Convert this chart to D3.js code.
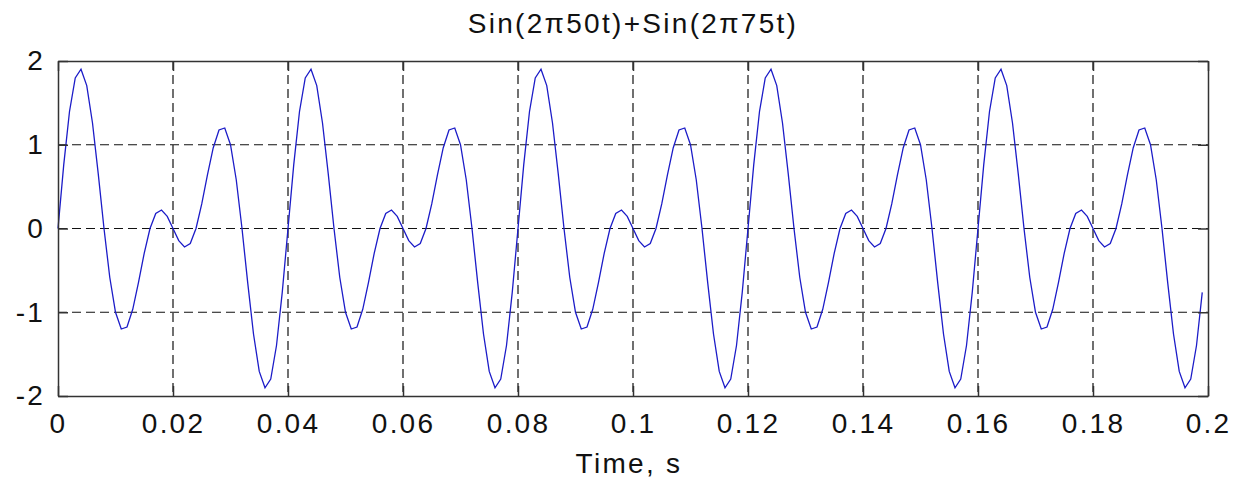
<!DOCTYPE html>
<html lang="en">

<head>
  <meta charset="UTF-8" />
  <title>Sin(2π50t)+Sin(2π75t)</title>
  <script src="https://cdn.jsdelivr.net/npm/d3@7"></script>
  <style>
    body {
      margin: 0;
      background: #ffffff;
    }

    text {
      font-family: "Liberation Sans", Arial, sans-serif;
      fill: #111;
    }

    .grid line {
      stroke: #111;
      stroke-width: 1.2;
      stroke-dasharray: 9, 5;
    }

    .axis path,
    .axis line {
      stroke: #333;
      stroke-width: 1.5;
    }
  </style>
</head>

<body>
  <svg id="fig" width="1247" height="479"></svg>

  <script>
    // samples, one every millisecond from t = 0
    let sampleStep = 0.001;
    let signal = [
      0, 0.763, 1.397, 1.797, 1.902, 1.707, 1.26, 0.653, 0, -0.582, -1, -1.2, -1.176, -0.965, -0.642, -0.293, 0, 0.179, 0.221, 0.145,
      0, -0.145, -0.221, -0.179, 0, 0.293, 0.642, 0.965, 1.176, 1.2, 1, 0.582, 0, -0.653, -1.26, -1.707, -1.902, -1.797, -1.397, -0.763,
      0, 0.763, 1.397, 1.797, 1.902, 1.707, 1.26, 0.653, 0, -0.582, -1, -1.2, -1.176, -0.965, -0.642, -0.293, 0, 0.179, 0.221, 0.145,
      0, -0.145, -0.221, -0.179, 0, 0.293, 0.642, 0.965, 1.176, 1.2, 1, 0.582, 0, -0.653, -1.26, -1.707, -1.902, -1.797, -1.397, -0.763,
      0, 0.763, 1.397, 1.797, 1.902, 1.707, 1.26, 0.653, 0, -0.582, -1, -1.2, -1.176, -0.965, -0.642, -0.293, 0, 0.179, 0.221, 0.145,
      0, -0.145, -0.221, -0.179, 0, 0.293, 0.642, 0.965, 1.176, 1.2, 1, 0.582, 0, -0.653, -1.26, -1.707, -1.902, -1.797, -1.397, -0.763,
      0, 0.763, 1.397, 1.797, 1.902, 1.707, 1.26, 0.653, 0, -0.582, -1, -1.2, -1.176, -0.965, -0.642, -0.293, 0, 0.179, 0.221, 0.145,
      0, -0.145, -0.221, -0.179, 0, 0.293, 0.642, 0.965, 1.176, 1.2, 1, 0.582, 0, -0.653, -1.26, -1.707, -1.902, -1.797, -1.397, -0.763,
      0, 0.763, 1.397, 1.797, 1.902, 1.707, 1.26, 0.653, 0, -0.582, -1, -1.2, -1.176, -0.965, -0.642, -0.293, 0, 0.179, 0.221, 0.145,
      0, -0.145, -0.221, -0.179, 0, 0.293, 0.642, 0.965, 1.176, 1.2, 1, 0.582, 0, -0.653, -1.26, -1.707, -1.902, -1.797, -1.397, -0.763
    ];

    let xTicks = [0, 0.02, 0.04, 0.06, 0.08, 0.1, 0.12, 0.14, 0.16, 0.18, 0.2];
    let xTickLabels = ["0", "0.02", "0.04", "0.06", "0.08", "0.1", "0.12", "0.14", "0.16", "0.18", "0.2"];
    let yTicks = [-2, -1, 0, 1, 2];
    let yTickLabels = ["-2", "-1", "0", "1", "2"];

    let title = "Sin(2\u03c050t)+Sin(2\u03c075t)";
    let xLabel = "Time, s";

    // plot box in page pixels
    let boxLeft = 58, boxRight = 1208, boxTop = 61, boxBottom = 396;

    let svg = d3.select("#fig");

    let x = d3.scaleLinear().domain([0, 0.2]).range([boxLeft, boxRight]);
    let y = d3.scaleLinear().domain([-2, 2]).range([boxBottom, boxTop]);

    // dashed grid
    let grid = svg.append("g").attr("class", "grid");
    grid
      .selectAll(".vgrid")
      .data(xTicks.slice(1, -1))
      .enter()
      .append("line")
      .attr("x1", (d) => x(d))
      .attr("x2", (d) => x(d))
      .attr("y1", boxTop)
      .attr("y2", boxBottom);
    grid
      .selectAll(".hgrid")
      .data(yTicks.slice(1, -1))
      .enter()
      .append("line")
      .attr("x1", boxLeft)
      .attr("x2", boxRight)
      .attr("y1", (d) => y(d))
      .attr("y2", (d) => y(d));

    // the signal
    let line = d3
      .line()
      .x((d, i) => x(i * sampleStep))
      .y((d) => y(d));

    svg
      .append("path")
      .datum(signal)
      .attr("d", line)
      .attr("fill", "none")
      .attr("stroke", "#1c1cc8")
      .attr("stroke-width", 1.3);

    // axes, ticks pointing inwards like matlab
    svg
      .append("g")
      .attr("class", "axis")
      .attr("transform", "translate(0," + boxBottom + ")")
      .call(
        d3.axisBottom(x)
          .tickValues(xTicks)
          .tickFormat((d, i) => xTickLabels[i])
          .tickSizeInner(-10)
          .tickSizeOuter(0)
          .tickPadding(17)
      );

    svg
      .append("g")
      .attr("class", "axis")
      .attr("transform", "translate(" + boxLeft + ",0)")
      .call(
        d3.axisLeft(y)
          .tickValues(yTicks)
          .tickFormat((d, i) => yTickLabels[i])
          .tickSizeInner(-10)
          .tickSizeOuter(0)
          .tickPadding(13)
      );

    svg
      .append("g")
      .attr("class", "axis")
      .attr("transform", "translate(0," + boxTop + ")")
      .call(d3.axisTop(x).tickValues(xTicks).tickFormat("").tickSizeInner(-10).tickSizeOuter(0));

    svg
      .append("g")
      .attr("class", "axis")
      .attr("transform", "translate(" + boxRight + ",0)")
      .call(d3.axisRight(y).tickValues(yTicks).tickFormat("").tickSizeInner(-10).tickSizeOuter(0));

    svg
      .selectAll(".axis text")
      .attr("fill", "#111")
      .style("font-family", '"Liberation Sans", Arial, sans-serif')
      .style("font-size", "28px")
      .style("letter-spacing", "2.2px");

    // title + label
    svg
      .append("text")
      .attr("x", (boxLeft + boxRight) / 2)
      .attr("y", 33)
      .attr("text-anchor", "middle")
      .style("font-size", "28px")
      .style("letter-spacing", "2.3px")
      .text(title);

    svg
      .append("text")
      .attr("x", (boxLeft + boxRight) / 2 - 4)
      .attr("y", 473)
      .attr("text-anchor", "middle")
      .style("font-size", "28px")
      .style("letter-spacing", "2.3px")
      .text(xLabel);
  </script>
</body>

</html>
